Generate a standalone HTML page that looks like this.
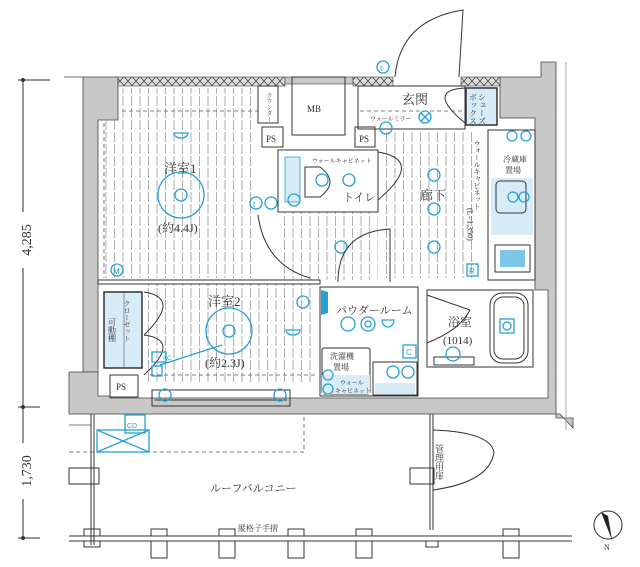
<!DOCTYPE html>
<html><head><meta charset="utf-8"><style>
html,body{margin:0;padding:0;background:#fff;width:640px;height:567px;overflow:hidden}
svg{display:block}
text{font-family:"Liberation Serif","Noto Serif CJK SC",serif;fill:#333}
.b{stroke:#27a0d6;fill:none;stroke-width:1.3}
.bt{fill:#27a0d6;font-family:"Liberation Sans",sans-serif}
.l{stroke:#333;fill:none;stroke-width:1}
.d{stroke:#555;fill:none;stroke-width:0.8;stroke-dasharray:4 3}
.g{fill:#c8c8c8;stroke:#444;stroke-width:0.8}
</style></head><body>
<svg width="640" height="567" viewBox="0 0 640 567" xmlns="http://www.w3.org/2000/svg">
<defs>
<pattern id="hx" width="8" height="9" patternUnits="userSpaceOnUse"><rect width="8" height="9" fill="#ddd"/><path d="M0 0L8 9M8 0L0 9" stroke="#444" stroke-width="0.8"/></pattern>
<pattern id="st" width="8.5" height="12" patternUnits="userSpaceOnUse"><line x1="4" y1="0" x2="4" y2="10" stroke="#999" stroke-width="0.8"/></pattern>
</defs>
<line x1="23" y1="80" x2="23" y2="538" stroke="#333"/>
<line x1="18" y1="80" x2="50" y2="80" stroke="#333"/>
<line x1="18" y1="407" x2="40" y2="407" stroke="#333"/>
<line x1="18" y1="538" x2="40" y2="538" stroke="#333"/>
<circle cx="23" cy="80" r="2" fill="#333"/><circle cx="23" cy="407" r="2" fill="#333"/><circle cx="23" cy="538" r="2" fill="#333"/>
<rect x="12" y="212" width="22" height="56" fill="#fff"/>
<text transform="translate(31,240) rotate(-90)" font-size="14" text-anchor="middle" font-family="Liberation Sans">4,285</text>
<rect x="12" y="443" width="22" height="56" fill="#fff"/>
<text transform="translate(31,471) rotate(-90)" font-size="14" text-anchor="middle" font-family="Liberation Sans">1,730</text>

<path class="g" d="M64 77H118V120H98V372H83V77Z"/>
<path class="g" d="M69 372H98V396H110V398H548V290H535V118H500V77H541V62H556V418H573V428L560 414H69Z"/>
<rect x="118" y="77" width="167" height="9" fill="url(#hx)" stroke="#444" stroke-width="0.6"/>
<rect x="285" y="77" width="68" height="7" fill="#c8c8c8" stroke="#444" stroke-width="0.6"/>
<rect x="353" y="77" width="40" height="9" fill="url(#hx)" stroke="#444" stroke-width="0.6"/>
<rect x="461" y="77" width="39" height="9" fill="url(#hx)" stroke="#444" stroke-width="0.6"/>
<line x1="566" y1="62" x2="566" y2="430" stroke="#aaa"/>
<path class="l" d="M395 77Q400 20 463 10L459 77"/>
<rect x="100" y="120" width="158" height="158" fill="url(#st)"/>
<rect x="122" y="88" width="136" height="32" fill="url(#st)"/>
<rect x="380" y="130" width="95" height="148" fill="url(#st)"/>
<rect x="283" y="212" width="95" height="68" fill="url(#st)"/>
<rect x="145" y="284" width="173" height="100" fill="url(#st)"/>
<line x1="122" y1="111" x2="258" y2="111" class="d"/>
<line x1="104" y1="123" x2="104" y2="278" class="d"/>
<rect class="l" x="258" y="86" width="20" height="37" fill="#fff"/>
<text x="268" y="92" font-size="6" writing-mode="tb">カウンター</text>
<rect class="l" x="262" y="127" width="21" height="20" fill="#fff"/><text x="266" y="142" font-size="9">PS</text>
<rect class="l" x="292" y="77" width="53" height="58" fill="#fff"/><text x="307" y="112" font-size="9">MB</text>
<rect class="l" x="355" y="127" width="20" height="20" fill="#fff"/><text x="359" y="142" font-size="9">PS</text>
<text x="164" y="173" font-size="13">洋室1</text>
<circle class="b" cx="181" cy="195" r="23" fill="#fff"/><circle class="b" cx="181" cy="195" r="6"/>
<path class="b" d="M174 133a7 5 0 0 0 14 0z"/>
<text x="158" y="232" font-size="12">(約4.4J)</text>
<circle class="b" cx="117" cy="270" r="6" fill="#fff"/><text class="bt" x="113" y="274" font-size="8">M</text>
<circle class="b" cx="256" cy="203" r="6"/><text class="bt" x="253" y="207" font-size="8">t</text>
<circle class="b" cx="271" cy="203" r="6"/>
<rect class="l" x="278" y="150" width="100" height="62" fill="#fff"/>
<rect x="285" y="157" width="15" height="45" fill="#d8ecf7" stroke="#27a0d6" stroke-width="0.8"/>
<path class="l" d="M305 167H320Q340 182 320 197H305Z"/>
<circle class="b" cx="322" cy="180" r="6"/><circle class="b" cx="349" cy="180" r="6"/><circle class="b" cx="294" cy="200" r="6"/>
<text x="312" y="163" font-size="6">ウォールキャビネット</text>
<text x="343" y="201" font-size="11">トイレ</text>
<path class="l" d="M378 152Q425 160 378 200"/>
<path class="l" d="M258 215Q265 265 310 278"/>
<rect class="l" x="358" y="86" width="107" height="43" fill="#fff"/>
<line class="d" x1="360" y1="111" x2="465" y2="111"/>
<path class="l" d="M465 88Q425 90 465 123"/>
<text x="402" y="104" font-size="13">玄関</text>
<text x="370" y="121" font-size="6">ウォールミラー</text>
<circle class="b" cx="425" cy="117" r="6"/><path class="b" d="M421 113l8 8M429 113l-8 8"/>
<circle class="b" cx="383" cy="67" r="6"/><text class="bt" x="380" y="71" font-size="8">t</text>
<rect x="466" y="88" width="31" height="37" fill="#d8ecf7" stroke="#333" stroke-width="1.5"/>
<text x="482" y="93" font-size="8" writing-mode="tb">シューズ</text>
<text x="473" y="93" font-size="8" writing-mode="tb">ボックス</text>
<circle class="b" cx="386" cy="128" r="6" fill="#fff"/>
<text x="420" y="200" font-size="13">廊下</text>
<circle class="b" cx="434" cy="175" r="6"/><circle class="b" cx="434" cy="209" r="6"/><circle class="b" cx="434" cy="247" r="6"/>
<circle class="b" cx="341" cy="247" r="6"/>
<path class="l" d="M338 282Q338 232 390 229V282"/>
<rect class="b" x="467" y="264" width="11" height="12"/><text class="bt" x="469" y="274" font-size="8">R</text>
<rect class="l" x="488" y="130" width="47" height="150" fill="#fff"/>
<text x="477" y="140" font-size="7" writing-mode="tb">ウォールキャビネット</text>
<text x="470" y="208" font-size="8" writing-mode="tb">(L=1,350)</text>
<text x="503" y="162" font-size="8">冷蔵庫</text><text x="505" y="173" font-size="8">置場</text>
<rect x="491" y="178" width="42" height="57" fill="#d8ecf7"/>
<rect class="l" x="496" y="181" width="30" height="32" rx="4"/>
<circle class="b" cx="512" cy="136" r="5"/><circle class="b" cx="526" cy="136" r="5"/>
<circle class="b" cx="513" cy="197" r="5"/><circle class="b" cx="524" cy="197" r="5"/>
<rect x="495" y="245" width="35" height="27" fill="#fff" stroke="#333"/>
<rect x="500" y="250" width="25" height="17" fill="#27a0d6" opacity="0.6"/>
<rect class="l" x="98" y="280" width="222" height="4" fill="#fff"/>
<rect x="104" y="292" width="38" height="76" fill="#d8ecf7" stroke="#333" stroke-width="1.5"/>
<line x1="124" y1="292" x2="124" y2="368" stroke="#555" stroke-width="0.6"/>
<text x="127" y="300" font-size="7" writing-mode="tb">クローゼット</text>
<text x="112" y="318" font-size="8" writing-mode="tb">可動棚</text>
<path class="l" d="M144 292Q182 298 144 335M144 335Q182 340 144 375"/>
<text x="208" y="306" font-size="13">洋室2</text>
<circle class="b" cx="229" cy="331" r="23" fill="#fff"/><circle class="b" cx="229" cy="331" r="6"/>
<text x="205" y="367" font-size="12">(約2.3J)</text>
<path class="b" d="M160 365L222 345"/>
<rect class="b" x="152" y="352" width="14" height="10"/><rect class="b" x="152" y="366" width="10" height="10"/>
<text class="bt" x="163" y="360" font-size="6">AC</text>
<circle class="b" cx="303" cy="302" r="6"/><path class="b" d="M286 330a7 5 0 0 0 14 0z"/>
<path d="M321 290V315L328 313V292Z" fill="#27a0d6"/>
<line class="d" x1="150" y1="375" x2="318" y2="375"/>
<rect class="l" x="152" y="390" width="138" height="16" fill="#fff"/>
<line class="l" x1="155" y1="400" x2="287" y2="400"/>
<circle class="b" cx="165" cy="395" r="6" fill="#fff"/><circle class="b" cx="280" cy="395" r="6" fill="#fff"/>
<rect class="l" x="110" y="375" width="28" height="22" fill="#fff"/><text x="116" y="390" font-size="9">PS</text>
<rect class="l" x="320" y="287" width="98" height="109" fill="#fff"/>
<text x="336" y="314" font-size="11">パウダールーム</text>
<circle class="b" cx="348" cy="324" r="7"/><circle class="b" cx="368" cy="324" r="7"/><circle class="b" cx="368" cy="324" r="3"/><path class="b" d="M382 320a6 7 0 0 0 12 0z"/>
<rect class="l" x="322" y="348" width="48" height="46" rx="2"/>
<text x="330" y="359" font-size="8">洗濯機</text><text x="333" y="370" font-size="8">置場</text>
<rect x="322" y="375" width="48" height="19" fill="#d8ecf7"/>
<text x="340" y="385" font-size="6">ウォール</text><text x="335" y="393" font-size="6">キャビネット</text>
<circle class="b" cx="328" cy="375" r="5"/><circle class="b" cx="328" cy="389" r="5"/>
<rect class="l" x="373" y="362" width="44" height="33"/>
<rect x="375" y="383" width="40" height="11" fill="#d8ecf7"/>
<circle class="b" cx="393" cy="372" r="6"/><circle class="b" cx="408" cy="372" r="6"/>
<rect class="b" x="403" y="345" width="13" height="13"/><text class="bt" x="406" y="355" font-size="8">C</text>
<rect class="l" x="427" y="290" width="106" height="77" fill="#fff"/>
<path class="l" d="M427 295L470 310Q460 330 427 343"/>
<text x="448" y="326" font-size="12">浴室</text><text x="443" y="344" font-size="11">(1014)</text>
<rect class="l" x="490" y="293" width="38" height="70" rx="12"/>
<rect class="l" x="494" y="297" width="30" height="62" rx="9"/>
<rect class="b" x="500" y="319" width="14" height="14"/><circle class="b" cx="507" cy="326" r="4"/>
<rect class="l" x="434" y="357" width="40" height="8"/><circle class="b" cx="453" cy="354" r="7"/>
<line class="l" x1="91" y1="414" x2="91" y2="545"/><line class="l" x1="94" y1="414" x2="94" y2="545"/>
<line class="l" x1="430" y1="414" x2="430" y2="530"/><line class="l" x1="433" y1="414" x2="433" y2="530"/>
<path class="d" d="M69 452H304V414"/>
<line x1="69" y1="425" x2="91" y2="425" stroke="#555" stroke-width="0.8"/>
<rect class="b" x="125" y="415" width="20" height="18"/><text class="bt" x="127" y="428" font-size="7">CD</text>
<rect class="b" x="97" y="430" width="52" height="22"/><path class="b" d="M97 430L149 452M149 430L97 452"/>
<rect class="l" x="69" y="468" width="30" height="16"/><rect class="l" x="410" y="468" width="24" height="16"/>
<path class="l" d="M433 430Q490 432 494 452Q490 482 433 490"/>
<text x="439" y="444" font-size="9" writing-mode="tb">管理用扉</text>
<text x="210" y="492" font-size="11">ルーフバルコニー</text>
<text x="238" y="531" font-size="8">縦格子手摺</text>
<line class="l" x1="69" y1="536" x2="572" y2="536"/><line class="l" x1="69" y1="541" x2="572" y2="541"/>
<g class="l">
<rect x="84" y="529" width="16" height="7"/><rect x="151" y="529" width="16" height="7"/><rect x="219" y="529" width="16" height="7"/><rect x="288" y="529" width="16" height="7"/><rect x="356" y="529" width="16" height="7"/><rect x="503" y="529" width="16" height="7"/>
<rect x="84" y="541" width="16" height="6"/><rect x="151" y="541" width="16" height="17"/><rect x="219" y="541" width="16" height="17"/><rect x="288" y="541" width="16" height="17"/><rect x="356" y="541" width="16" height="17"/><rect x="503" y="541" width="16" height="17"/><rect x="426" y="541" width="12" height="6"/>
</g>
<circle cx="608" cy="525" r="14" fill="none" stroke="#333"/>
<path d="M601 512L612 540L608 516Z" fill="#222"/>
<text x="604" y="550" font-size="8" font-family="Liberation Sans">N</text>
</svg>
</body></html>
